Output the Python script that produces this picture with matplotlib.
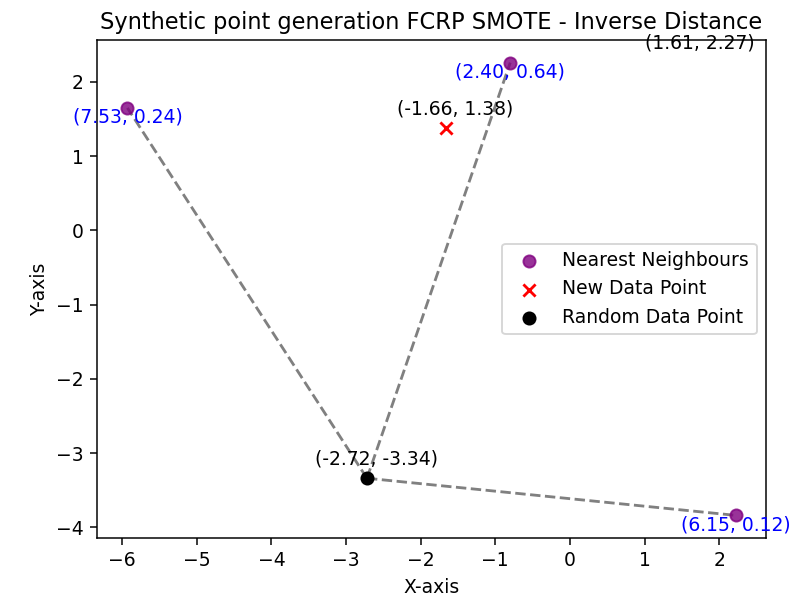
import matplotlib.pyplot as plt

# neighbours, random point, new synthetic point
nn_x = [-5.93, -0.80, 2.22]
nn_y = [1.65, 2.26, -3.84]
nn_labels = ["(7.53, 0.24)", "(2.40, 0.64)", "(6.15, 0.12)"]

rand_x, rand_y = -2.72, -3.34
new_x, new_y = -1.66, 1.38

# extra annotation with no marker
extra_x, extra_y = 1.61, 2.27

fig = plt.figure(figsize=(6.0, 596 / 135), dpi=135)
ax = fig.add_axes([97 / 810, 58 / 596, 669 / 810, 498 / 596])

# dashed lines from the random point to each neighbour
for x, y in zip(nn_x, nn_y):
    ax.plot([rand_x, x], [rand_y, y], color='gray', linestyle='--')

ax.scatter(nn_x, nn_y, color='purple', alpha=0.8, s=42, label='Nearest Neighbours', zorder=3)
ax.scatter(new_x, new_y, color='red', marker='x', s=42, label='New Data Point', zorder=3)
ax.scatter(rand_x, rand_y, color='black', s=42, label='Random Data Point', zorder=3)

for x, y, lab in zip(nn_x, nn_y, nn_labels):
    ax.annotate(lab, (x, y), xytext=(0, -5), textcoords='offset points',
                ha='center', va='center', color='blue')

for x, y in [(new_x, new_y), (rand_x, rand_y), (extra_x, extra_y)]:
    ax.annotate(f"({x:.2f}, {y:.2f})", (x, y), xytext=(5, 5), textcoords='offset points',
                ha='center', va='bottom', color='black')

ax.set_title('Synthetic point generation FCRP SMOTE - Inverse Distance')
ax.set_xlabel('X-axis')
ax.set_ylabel('Y-axis')
ax.legend(loc='center right')

fig.savefig('out.png', dpi=135)
